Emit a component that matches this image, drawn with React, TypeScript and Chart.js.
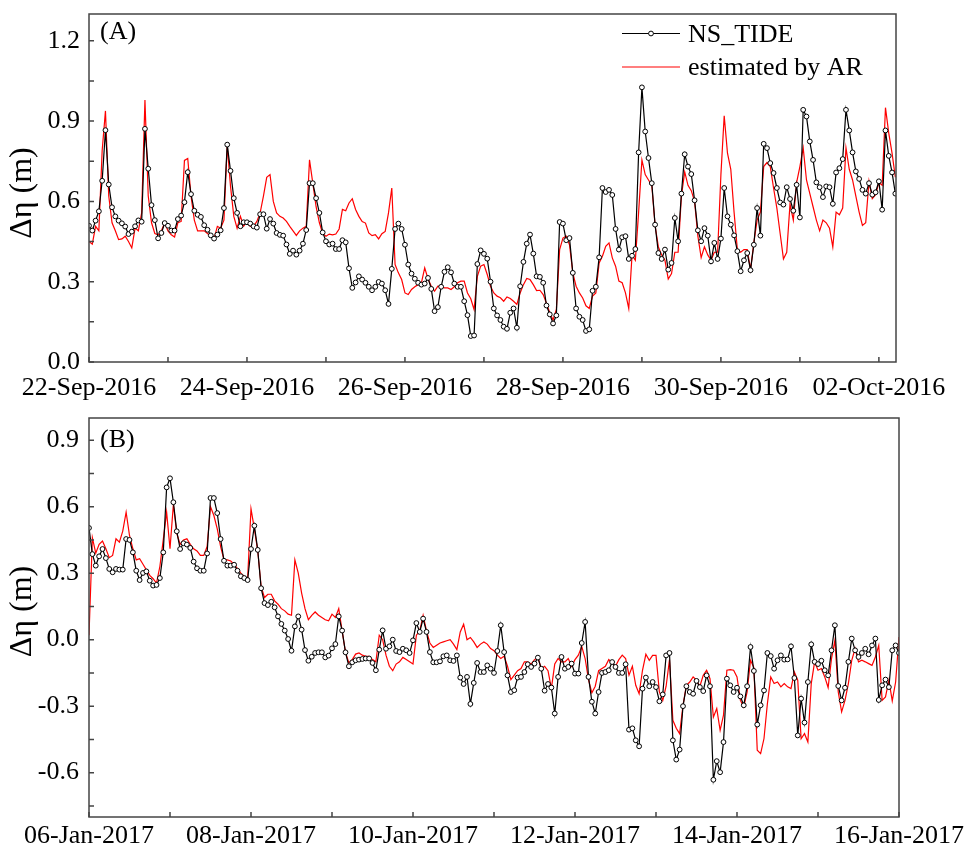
import React, { useEffect, useRef } from 'react';
import { Chart, registerables } from 'chart.js';

Chart.register(...registerables);

const FONT = '"Liberation Serif", "Times New Roman", Times, serif';

// ---- tick positions (hours since first day 00:00) and labels ----
const dayTickHours = [0, 24, 48, 72, 96, 120, 144, 168, 192, 216, 240];
const dayLabelsA = ['22-Sep-2016', '', '24-Sep-2016', '', '26-Sep-2016', '', '28-Sep-2016', '', '30-Sep-2016', '', '02-Oct-2016'];
const dayLabelsB = ['06-Jan-2017', '', '08-Jan-2017', '', '10-Jan-2017', '', '12-Jan-2017', '', '14-Jan-2017', '', '16-Jan-2017'];
const yMajorA = [0, 0.3, 0.6, 0.9, 1.2];
const yMinorA = [0.15, 0.45, 0.75, 1.05];
const yMajorB = [-0.6, -0.3, 0, 0.3, 0.6, 0.9];
const yMinorB = [-0.75, -0.45, -0.15, 0.15, 0.45, 0.75];

const seriesNames = ['NS_TIDE', 'estimated by AR'];

// ---- Panel A: hourly values from 22-Sep-2016 00:00 ----
const nsTideA = [
  0.509, 0.491, 0.528, 0.563, 0.677, 0.866, 0.663, 0.578, 0.544, 0.528,
  0.518, 0.506, 0.478, 0.487, 0.507, 0.529, 0.524, 0.871, 0.722, 0.586,
  0.530, 0.462, 0.482, 0.519, 0.509, 0.491, 0.491, 0.534, 0.547, 0.597,
  0.709, 0.627, 0.565, 0.550, 0.542, 0.511, 0.494, 0.473, 0.461, 0.476,
  0.492, 0.575, 0.812, 0.714, 0.612, 0.557, 0.507, 0.522, 0.522, 0.517,
  0.507, 0.502, 0.552, 0.552, 0.498, 0.534, 0.517, 0.482, 0.475, 0.472,
  0.439, 0.404, 0.416, 0.401, 0.416, 0.442, 0.493, 0.668, 0.668, 0.612,
  0.557, 0.484, 0.451, 0.439, 0.442, 0.422, 0.422, 0.455, 0.447, 0.350,
  0.277, 0.297, 0.320, 0.308, 0.296, 0.281, 0.268, 0.281, 0.299, 0.293,
  0.268, 0.217, 0.348, 0.497, 0.517, 0.497, 0.438, 0.364, 0.330, 0.311,
  0.296, 0.289, 0.293, 0.314, 0.273, 0.190, 0.205, 0.281, 0.337, 0.354,
  0.335, 0.293, 0.281, 0.281, 0.227, 0.175, 0.097, 0.099, 0.366, 0.417,
  0.404, 0.386, 0.300, 0.200, 0.174, 0.157, 0.132, 0.124, 0.184, 0.200,
  0.128, 0.283, 0.374, 0.442, 0.476, 0.405, 0.320, 0.318, 0.296, 0.211,
  0.178, 0.144, 0.174, 0.523, 0.517, 0.455, 0.463, 0.333, 0.200, 0.169,
  0.157, 0.116, 0.122, 0.266, 0.281, 0.391, 0.650, 0.635, 0.643, 0.624,
  0.497, 0.420, 0.466, 0.470, 0.385, 0.397, 0.422, 0.783, 1.026, 0.861,
  0.762, 0.668, 0.513, 0.407, 0.385, 0.420, 0.345, 0.370, 0.538, 0.451,
  0.629, 0.776, 0.730, 0.702, 0.604, 0.492, 0.451, 0.500, 0.472, 0.376,
  0.445, 0.385, 0.461, 0.650, 0.544, 0.513, 0.473, 0.414, 0.339, 0.380,
  0.407, 0.343, 0.438, 0.575, 0.472, 0.815, 0.799, 0.743, 0.706, 0.650,
  0.596, 0.588, 0.653, 0.609, 0.565, 0.662, 0.540, 0.942, 0.917, 0.824,
  0.755, 0.671, 0.653, 0.616, 0.656, 0.653, 0.591, 0.708, 0.724, 0.758,
  0.942, 0.865, 0.783, 0.712, 0.684, 0.643, 0.629, 0.668, 0.625, 0.634,
  0.675, 0.569, 0.865, 0.770, 0.708, 0.629,
];

const arA = [
  0.45, 0.44, 0.507, 0.49, 0.79, 0.938, 0.62, 0.52, 0.49, 0.457,
  0.46, 0.47, 0.45, 0.426, 0.50, 0.49, 0.557, 0.979, 0.62, 0.52,
  0.48, 0.475, 0.49, 0.52, 0.49, 0.475, 0.467, 0.52, 0.525, 0.753,
  0.76, 0.62, 0.53, 0.49, 0.49, 0.49, 0.48, 0.47, 0.462, 0.507,
  0.50, 0.53, 0.81, 0.656, 0.544, 0.50, 0.544, 0.507, 0.525, 0.507,
  0.507, 0.525, 0.557, 0.62, 0.69, 0.70, 0.60, 0.557, 0.544, 0.538,
  0.525, 0.507, 0.49, 0.473, 0.49, 0.50, 0.507, 0.755, 0.668, 0.58,
  0.52, 0.48, 0.47, 0.478, 0.475, 0.478, 0.497, 0.57, 0.565, 0.594,
  0.61, 0.57, 0.544, 0.525, 0.519, 0.482, 0.472, 0.476, 0.46, 0.479,
  0.488, 0.557, 0.65, 0.364, 0.333, 0.308, 0.258, 0.252, 0.271, 0.281,
  0.289, 0.296, 0.352, 0.311, 0.283, 0.265, 0.283, 0.281, 0.277, 0.277,
  0.271, 0.281, 0.296, 0.302, 0.302, 0.258, 0.236, 0.196, 0.32, 0.358,
  0.364, 0.327, 0.283, 0.258, 0.246, 0.24, 0.227, 0.243, 0.237, 0.227,
  0.215, 0.258, 0.289, 0.312, 0.308, 0.289, 0.267, 0.268, 0.252, 0.219,
  0.184, 0.157, 0.196, 0.42, 0.463, 0.47, 0.438, 0.333, 0.283, 0.258,
  0.239, 0.21, 0.20, 0.246, 0.258, 0.37, 0.395, 0.432, 0.445, 0.389,
  0.358, 0.302, 0.296, 0.258, 0.20, 0.40, 0.38, 0.56, 0.755, 0.70,
  0.68, 0.66, 0.51, 0.43, 0.40, 0.38, 0.31, 0.33, 0.41, 0.41,
  0.62, 0.71, 0.66, 0.64, 0.60, 0.47, 0.39, 0.43, 0.40, 0.38,
  0.41, 0.41, 0.70, 0.92, 0.78, 0.72, 0.56, 0.42, 0.41, 0.42,
  0.42, 0.345, 0.445, 0.53, 0.56, 0.73, 0.745, 0.73, 0.65, 0.575,
  0.48, 0.385, 0.41, 0.59, 0.53, 0.67, 0.73, 0.80, 0.68, 0.63,
  0.58, 0.53, 0.49, 0.53, 0.52, 0.50, 0.43, 0.56, 0.55, 0.575,
  0.80, 0.72, 0.68, 0.62, 0.56, 0.51, 0.52, 0.675, 0.61, 0.625,
  0.67, 0.66, 0.95, 0.855, 0.78, 0.69,
];

// ---- Panel B: hourly values from 06-Jan-2017 00:00 ----
const nsTideB = [
  0.504, 0.386, 0.334, 0.376, 0.409, 0.368, 0.319, 0.304, 0.319, 0.316,
  0.316, 0.454, 0.450, 0.394, 0.311, 0.269, 0.301, 0.308, 0.266, 0.244,
  0.247, 0.278, 0.394, 0.687, 0.728, 0.620, 0.489, 0.409, 0.435, 0.429,
  0.414, 0.352, 0.322, 0.311, 0.311, 0.389, 0.639, 0.639, 0.571, 0.454,
  0.356, 0.334, 0.334, 0.338, 0.311, 0.286, 0.278, 0.269, 0.409, 0.514,
  0.405, 0.232, 0.165, 0.156, 0.171, 0.146, 0.105, 0.071, 0.041, 0.003,
  -0.050, 0.060, 0.105, 0.045, -0.047, -0.095, -0.077, -0.060, -0.057, -0.057,
  -0.080, -0.072, -0.039, -0.020, 0.105, 0.041, -0.057, -0.120, -0.102, -0.093,
  -0.090, -0.087, -0.085, -0.085, -0.105, -0.138, -0.045, 0.042, -0.041, -0.030,
  0.000, -0.051, -0.056, -0.041, -0.048, -0.060, -0.003, 0.075, 0.035, 0.095,
  0.035, -0.056, -0.102, -0.102, -0.098, -0.075, -0.071, -0.093, -0.096, -0.071,
  -0.171, -0.200, -0.168, -0.290, -0.195, -0.105, -0.146, -0.146, -0.116, -0.131,
  -0.150, -0.051, 0.065, -0.056, -0.161, -0.236, -0.228, -0.171, -0.168, -0.146,
  -0.111, -0.123, -0.108, -0.081, -0.131, -0.230, -0.200, -0.216, -0.333, -0.168,
  -0.078, -0.131, -0.123, -0.108, -0.153, -0.153, -0.015, 0.080, -0.168, -0.280,
  -0.333, -0.236, -0.150, -0.146, -0.138, -0.101, -0.123, -0.150, -0.150, -0.111,
  -0.406, -0.400, -0.454, -0.481, -0.221, -0.171, -0.210, -0.191, -0.214, -0.278,
  -0.247, -0.071, -0.060, -0.454, -0.541, -0.496, -0.300, -0.210, -0.236, -0.244,
  -0.186, -0.214, -0.232, -0.161, -0.210, -0.632, -0.548, -0.598, -0.462, -0.176,
  -0.206, -0.236, -0.217, -0.256, -0.296, -0.210, -0.033, -0.141, -0.383, -0.296,
  -0.229, -0.060, -0.074, -0.131, -0.093, -0.071, -0.090, -0.089, -0.030, -0.173,
  -0.432, -0.266, -0.374, -0.191, -0.021, -0.100, -0.110, -0.095, -0.138, -0.161,
  -0.048, 0.065, -0.209, -0.274, -0.217, -0.100, 0.005, -0.048, -0.078, -0.060,
  -0.041, -0.066, -0.026, 0.005, -0.272, -0.206, -0.180, -0.214, -0.048, -0.026,
  -0.060,
];

const arB = [
  0.02, 0.46, 0.39, 0.43, 0.445, 0.41, 0.37, 0.38, 0.455, 0.44,
  0.49, 0.575, 0.47, 0.41, 0.36, 0.365, 0.34, 0.315, 0.29, 0.275,
  0.255, 0.33, 0.45, 0.575, 0.41, 0.61, 0.48, 0.43, 0.45, 0.455,
  0.43, 0.41, 0.40, 0.38, 0.38, 0.42, 0.60, 0.56, 0.50, 0.42,
  0.36, 0.36, 0.355, 0.34, 0.32, 0.30, 0.285, 0.275, 0.59, 0.50,
  0.40, 0.24, 0.19, 0.205, 0.205, 0.175, 0.16, 0.14, 0.13, 0.115,
  0.11, 0.36, 0.30, 0.21, 0.14, 0.09, 0.11, 0.125, 0.11, 0.10,
  0.09, 0.085, 0.115, 0.10, 0.14, 0.04, -0.057, -0.105, -0.09, -0.065,
  -0.06, -0.07, -0.075, -0.075, -0.09, -0.10, 0.02, 0.0, -0.07, -0.12,
  -0.14, -0.11, -0.10, -0.08, -0.09, -0.10, -0.11, 0.02, 0.04, 0.11,
  0.04, -0.015, -0.035, -0.025, -0.015, -0.01, -0.005, 0.0, -0.02, -0.045,
  0.035, 0.07, 0.0, 0.01, -0.01, -0.035, -0.02, -0.01, -0.02, -0.04,
  -0.05, -0.07, -0.085, -0.075, -0.12, -0.18, -0.16, -0.14, -0.13, -0.10,
  -0.10, -0.11, -0.09, -0.08, -0.13, -0.12, -0.14, -0.22, -0.11, -0.085,
  -0.10, -0.10, -0.085, -0.12, -0.09, -0.07, -0.03, -0.085, -0.18, -0.24,
  -0.21, -0.14, -0.13, -0.12, -0.09, -0.105, -0.12, -0.09, -0.07, -0.085,
  -0.16, -0.12, -0.206, -0.244, -0.138, -0.066, -0.093, -0.071, -0.071, -0.236,
  -0.274, -0.21, -0.09, -0.364, -0.40, -0.424, -0.296, -0.206, -0.191, -0.168,
  -0.183, -0.21, -0.161, -0.138, -0.176, -0.35, -0.311, -0.409, -0.341, -0.138,
  -0.135, -0.138, -0.168, -0.274, -0.304, -0.236, -0.093, -0.126, -0.499, -0.514,
  -0.446, -0.289, -0.168, -0.198, -0.191, -0.213, -0.198, -0.213, -0.221, -0.146,
  -0.183, -0.447, -0.424, -0.462, -0.198, -0.10, -0.138, -0.13, -0.168, -0.216,
  -0.086, -0.003, -0.236, -0.326, -0.274, -0.198, -0.093, -0.04, -0.10, -0.093,
  -0.10, -0.108, -0.116, -0.078, -0.026, -0.274, -0.258, -0.183, -0.276, -0.191,
  0.012,
];

// ---- plugins ----
const framePlugin = {
  id: 'frame',
  afterDatasetsDraw(chart: any, _args: any, o: any) {
    const { ctx, chartArea: ca, scales } = chart;
    const x = scales.x;
    const y = scales.y;
    ctx.save();
    ctx.strokeStyle = '#444';
    ctx.lineWidth = 1.5;
    ctx.beginPath();
    for (const v of o.xTicks) {
      const px = x.getPixelForValue(v);
      ctx.moveTo(px, ca.bottom);
      ctx.lineTo(px, ca.bottom - o.len);
    }
    for (const v of o.yTicks) {
      const py = y.getPixelForValue(v);
      ctx.moveTo(ca.left, py);
      ctx.lineTo(ca.left + o.len, py);
    }
    ctx.stroke();
    ctx.strokeRect(ca.left, ca.top, ca.right - ca.left, ca.bottom - ca.top);
    ctx.restore();
  },
};

const annotPlugin = {
  id: 'annot',
  afterDraw(chart: any, _args: any, o: any) {
    const { ctx, chartArea: ca } = chart;
    ctx.save();
    ctx.fillStyle = '#000';
    // panel letter
    ctx.font = `26px ${FONT}`;
    ctx.textAlign = 'left';
    ctx.textBaseline = 'alphabetic';
    ctx.fillText(o.panel, ca.left + o.panelDx, ca.top + o.panelDy);
    // y axis title
    ctx.save();
    ctx.translate(o.titleX, (ca.top + ca.bottom) / 2 + o.titleDy);
    ctx.rotate(-Math.PI / 2);
    ctx.font = `32px ${FONT}`;
    ctx.textAlign = 'center';
    ctx.textBaseline = 'middle';
    ctx.fillText(o.title, 0, 0);
    ctx.restore();
    // legend
    if (o.legend) {
      ctx.font = `26px ${FONT}`;
      o.legend.forEach((it: any, i: number) => {
        const ds = chart.data.datasets[i];
        const ly = ca.top + it.lineDy;
        const x0 = ca.right - o.legendLineFrom;
        const x1 = ca.right - o.legendLineTo;
        ctx.strokeStyle = ds.borderColor;
        ctx.lineWidth = ds.borderWidth;
        ctx.beginPath();
        ctx.moveTo(x0, ly);
        ctx.lineTo(x1, ly);
        ctx.stroke();
        if (ds.pointRadius > 0) {
          ctx.beginPath();
          ctx.arc((x0 + x1) / 2, ly, ds.pointRadius, 0, Math.PI * 2);
          ctx.fillStyle = ds.pointBackgroundColor;
          ctx.fill();
          ctx.lineWidth = ds.pointBorderWidth;
          ctx.strokeStyle = ds.pointBorderColor;
          ctx.stroke();
        }
        ctx.fillStyle = '#000';
        ctx.fillText(ds.label, ca.right - o.legendTextFrom, ca.top + it.textDy);
      });
    }
    ctx.restore();
  },
};

function buildConfig(p: any) {
  return {
    type: 'line',
    data: {
      datasets: [
        {
          label: seriesNames[0],
          data: p.ns.map((v: number, i: number) => ({ x: i, y: v })),
          borderColor: '#000',
          borderWidth: 1.2,
          pointRadius: 2.4,
          pointBorderWidth: 1,
          pointBackgroundColor: '#fff',
          pointBorderColor: '#000',
          tension: 0,
        },
        {
          label: seriesNames[1],
          data: p.ar.map((v: number, i: number) => ({ x: i, y: v })),
          borderColor: '#ff0000',
          borderWidth: 1.2,
          pointRadius: 0,
          tension: 0,
        },
      ],
    },
    options: {
      animation: false,
      responsive: false,
      maintainAspectRatio: false,
      events: [],
      layout: { padding: { top: p.padTop, right: p.padRight, left: 0, bottom: 0 } },
      plugins: {
        legend: { display: false },
        tooltip: { enabled: false },
        frame: { xTicks: dayTickHours, yTicks: [...p.yMajor, ...p.yMinor], len: 5 },
        annot: p.annot,
      },
      scales: {
        x: {
          type: 'linear',
          min: 0,
          max: p.xMax,
          grid: { display: false, drawTicks: false },
          border: { display: false },
          afterBuildTicks: (ax: any) => {
            ax.ticks = dayTickHours.map((v) => ({ value: v }));
          },
          afterFit: (ax: any) => {
            ax.height = p.xAxisH;
            ax.paddingLeft = 0;
            ax.paddingRight = 0;
            ax.paddingTop = 0;
            ax.paddingBottom = 0;
          },
          ticks: {
            autoSkip: false,
            maxRotation: 0,
            minRotation: 0,
            padding: p.xPad,
            color: '#000',
            font: { family: FONT, size: 26 },
            callback: (_v: any, i: number) => p.xLabels[i] ?? '',
          },
        },
        y: {
          type: 'linear',
          min: p.yMin,
          max: p.yMax,
          grid: { display: false, drawTicks: false },
          border: { display: false },
          afterBuildTicks: (ax: any) => {
            ax.ticks = p.yMajor.map((v: number) => ({ value: v }));
          },
          afterFit: (ax: any) => {
            ax.width = 89;
            ax.paddingLeft = 0;
            ax.paddingRight = 0;
            ax.paddingTop = 0;
            ax.paddingBottom = 0;
          },
          ticks: {
            padding: p.yPad,
            color: '#000',
            font: { family: FONT, size: 26 },
            callback: (v: any) => Number(v).toFixed(1),
          },
        },
      },
    },
    plugins: [framePlugin, annotPlugin],
  };
}

function Panel(props: { cfg: any; width: number; height: number }) {
  const ref = useRef<HTMLCanvasElement | null>(null);
  useEffect(() => {
    if (!ref.current) return;
    const chart = new Chart(ref.current, props.cfg);
    return () => chart.destroy();
  }, []);
  return (
    <canvas
      ref={ref}
      width={props.width}
      height={props.height}
      style={{ display: 'block', width: props.width, height: props.height }}
    />
  );
}

const cfgA = buildConfig({
  ns: nsTideA,
  ar: arA,
  xMax: 245.2,
  xLabels: dayLabelsA,
  yMin: 0,
  yMax: 1.3,
  yMajor: yMajorA,
  yMinor: yMinorA,
  padTop: 14,
  padRight: 73,
  xAxisH: 38,
  xPad: 11,
  yPad: 9,
  annot: {
    panel: '(A)',
    panelDx: 11,
    panelDy: 25,
    title: 'Δη (m)',
    titleX: 23,
    titleDy: 5,
    legend: [
      { lineDy: 19.5, textDy: 28 },
      { lineDy: 53, textDy: 61 },
    ],
    legendLineFrom: 274,
    legendLineTo: 216,
    legendTextFrom: 208,
  },
});

const cfgB = buildConfig({
  ns: nsTideB,
  ar: arB,
  xMax: 240,
  xLabels: dayLabelsB,
  yMin: -0.8,
  yMax: 1.0,
  yMajor: yMajorB,
  yMinor: yMinorB,
  padTop: 18,
  padRight: 70,
  xAxisH: 37,
  xPad: 4,
  yPad: 10,
  annot: {
    panel: '(B)',
    panelDx: 11,
    panelDy: 29,
    title: 'Δη (m)',
    titleX: 23,
    titleDy: -6,
    legend: null,
  },
});

export default function App() {
  return (
    <div style={{ position: 'absolute', left: 0, top: 0, width: 969, height: 854, background: '#fff' }}>
      <Panel cfg={cfgA} width={969} height={400} />
      <Panel cfg={cfgB} width={969} height={454} />
    </div>
  );
}
